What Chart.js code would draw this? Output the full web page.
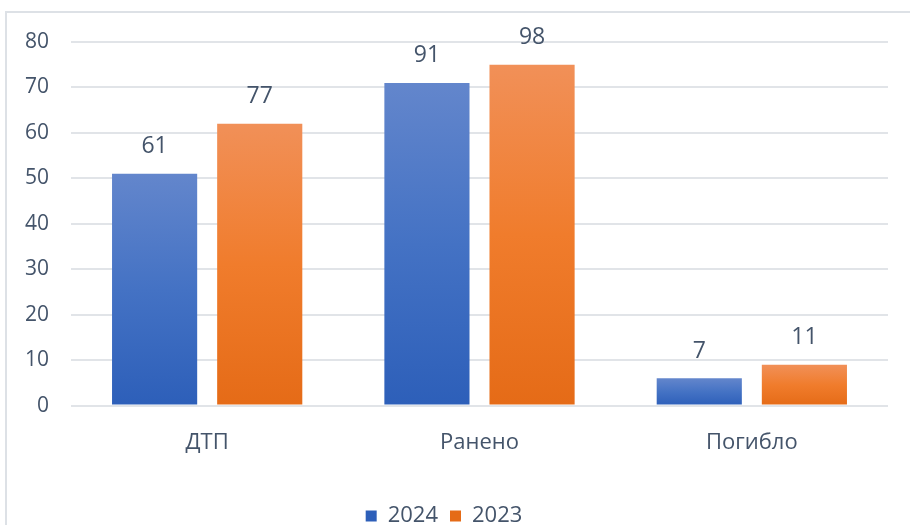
<!DOCTYPE html>
<html>
<head>
<meta charset="utf-8">
<script src="https://cdn.jsdelivr.net/npm/chart.js@4/dist/chart.umd.min.js"></script>
<style>
  body { margin: 0; background: #fff; }
  #wrap { position: relative; width: 910px; height: 525px; }
  #frame { position: absolute; left: 5px; top: 11px; width: 920px; height: 530px; border: 2px solid #dde1e6; }
  canvas { position: absolute; left: 0; top: 0; }
</style>
</head>
<body>
<div id="wrap">
  <div id="frame"></div>
  <canvas id="myChart" width="910" height="525"></canvas>
</div>
<script>
// categories and series
var categories = ["ДТП", "Ранено", "Погибло"];
var seriesNames = ["2024", "2023"];
// bar heights as drawn in the picture
var values2024 = [51, 71, 6];
var values2023 = [62, 75, 9];
// numbers written over the bars
var labels2024 = ["61", "91", "7"];
var labels2023 = ["77", "98", "11"];
var yTicks = [0, 10, 20, 30, 40, 50, 60, 70, 80];

var textColor = "#44546a";
var fontFamily = "'Open Sans', sans-serif";

function barFill(light, dark, solid) {
  return function (ctx) {
    var chart = ctx.chart;
    if (ctx.type !== "data" || !chart.chartArea) return solid;
    var y = chart.scales.y;
    var top = y.getPixelForValue(ctx.raw);
    var bottom = y.getPixelForValue(0);
    if (!isFinite(top) || bottom - top < 1) return solid;
    var g = chart.ctx.createLinearGradient(0, top, 0, bottom);
    g.addColorStop(0, light);
    g.addColorStop(0.5, solid);
    g.addColorStop(1, dark);
    return g;
  };
}

// writes the numbers above each bar
var barLabels = {
  id: "barLabels",
  afterDatasetsDraw: function (chart) {
    var ctx = chart.ctx;
    var texts = [labels2024, labels2023];
    ctx.save();
    ctx.font = "23px " + fontFamily;
    ctx.fillStyle = textColor;
    ctx.textAlign = "center";
    ctx.textBaseline = "middle";
    chart.data.datasets.forEach(function (ds, i) {
      chart.getDatasetMeta(i).data.forEach(function (bar, j) {
        ctx.fillText(texts[i][j], bar.x, bar.y - 27);
      });
    });
    ctx.restore();
  }
};

new Chart("myChart", {
  type: "bar",
  data: {
    labels: categories,
    datasets: [
      {
        label: seriesNames[0],
        data: values2024,
        backgroundColor: barFill("#6386cc", "#2d5fb9", "#4472c4"),
        categoryPercentage: 0.772,
        barPercentage: 0.81
      },
      {
        label: seriesNames[1],
        data: values2023,
        backgroundColor: barFill("#f19058", "#e56b17", "#f07c2c"),
        categoryPercentage: 0.772,
        barPercentage: 0.81
      }
    ]
  },
  options: {
    responsive: false,
    animation: false,
    layout: { padding: { top: 42, right: 22, bottom: -12, left: 0 } },
    plugins: {
      legend: {
        position: "bottom",
        labels: {
          boxWidth: 11,
          boxHeight: 11,
          padding: 12,
          color: textColor,
          font: { size: 22, family: fontFamily }
        }
      },
      tooltip: { enabled: false }
    },
    scales: {
      x: {
        afterFit: function (scale) { scale.height += 13; },
        grid: { display: false, drawTicks: false },
        border: { display: false },
        ticks: { padding: 24, color: textColor, font: { size: 22, family: fontFamily } }
      },
      y: {
        min: 0,
        max: 80,
        afterBuildTicks: function (scale) {
          scale.ticks = yTicks.map(function (v) { return { value: v }; });
        },
        afterFit: function (scale) { scale.width = 71; },
        grid: { color: "#e1e4e8", lineWidth: 2, drawTicks: false },
        border: { display: false },
        ticks: { padding: 22, color: textColor, font: { size: 21, family: fontFamily } }
      }
    }
  },
  plugins: [barLabels]
});
</script>
</body>
</html>
